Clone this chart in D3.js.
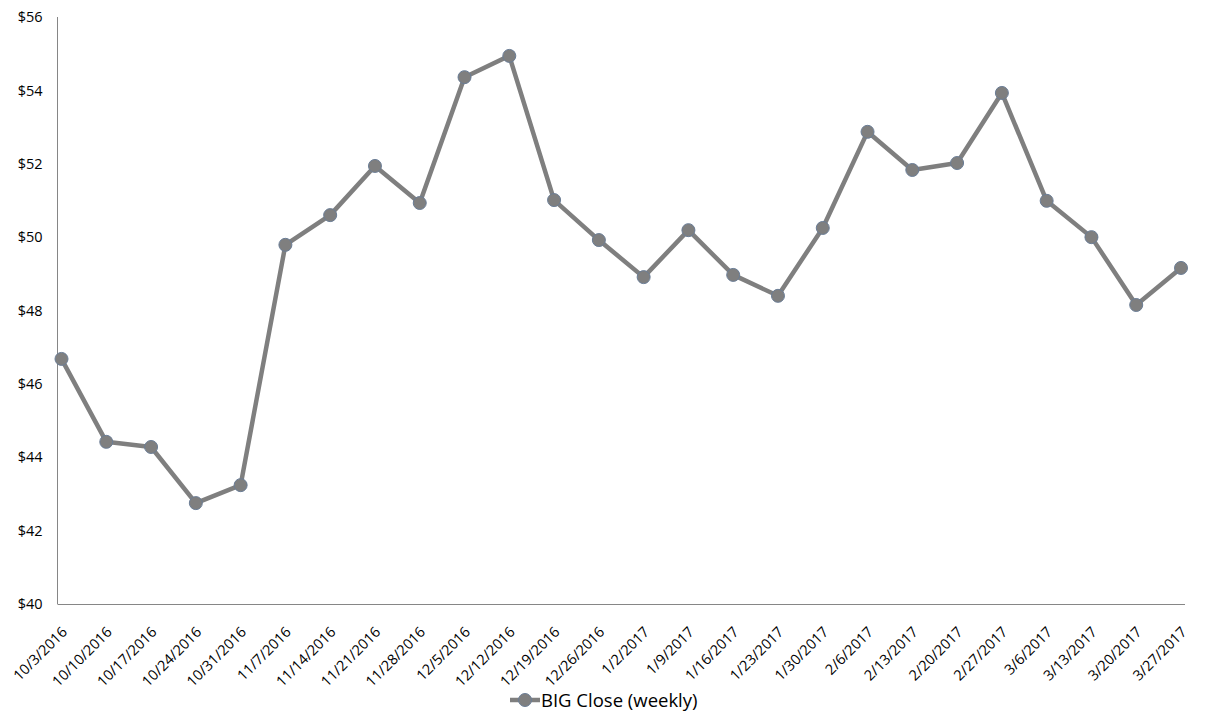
<!DOCTYPE html>
<html>
<head>
<meta charset="utf-8">
<script src="https://cdn.jsdelivr.net/npm/d3@7"></script>
<style>
  html, body { margin: 0; padding: 0; background: #fff; }
  svg text { font-family: "Open Sans", "Liberation Sans", sans-serif; fill: #000; }
</style>
</head>
<body>
<svg id="chart" width="1209" height="727"></svg>
<script>
const categories = ["10/3/2016","10/10/2016","10/17/2016","10/24/2016","10/31/2016","11/7/2016","11/14/2016","11/21/2016","11/28/2016","12/5/2016","12/12/2016","12/19/2016","12/26/2016","1/2/2017","1/9/2017","1/16/2017","1/23/2017","1/30/2017","2/6/2017","2/13/2017","2/20/2017","2/27/2017","3/6/2017","3/13/2017","3/20/2017","3/27/2017"];
const closeValues = [46.68,44.42,44.28,42.75,43.24,49.79,50.60,51.94,50.93,54.36,54.94,51.01,49.92,48.91,50.19,48.97,48.40,50.25,52.87,51.83,52.02,53.93,50.99,50.00,48.15,49.16];
const yTicks = [40,42,44,46,48,50,52,54,56];
const seriesName = "BIG Close (weekly)";

(function () {
const svg = d3.select("#chart");
const pLeft = 57.5, pRight = 1185, pTop = 17, pBottom = 604;

const x = d3.scalePoint().domain(categories).range([61.5, 1181]);
const y = d3.scaleLinear().domain([40, 56]).range([pBottom, pTop]);

// axes lines
svg.append("line").attr("x1", pLeft).attr("x2", pLeft).attr("y1", pTop).attr("y2", pBottom)
  .attr("stroke", "#868686").attr("stroke-width", 1);
svg.append("line").attr("x1", pLeft).attr("x2", pRight).attr("y1", pBottom + 0.5).attr("y2", pBottom + 0.5)
  .attr("stroke", "#868686").attr("stroke-width", 1);

// y tick labels
const yAxis = d3.axisLeft(y).tickValues(yTicks).tickFormat(d => "$" + d).tickSize(0).tickPadding(0);
const gy = svg.append("g").attr("transform", `translate(42.5,0)`).call(yAxis);
gy.select(".domain").remove();
gy.selectAll("text").attr("font-size", 14.5).attr("fill", "#000");

// x tick labels
const xAxis = d3.axisBottom(x).tickSize(0).tickPadding(0);
const gx = svg.append("g").attr("transform", `translate(0,${pBottom})`).call(xAxis);
gx.select(".domain").remove();
gx.selectAll("text")
  .attr("font-size", 14.5).attr("fill", "#000")
  .attr("text-anchor", "end")
  .attr("dy", null)
  .attr("y", 0)
  .attr("transform", "translate(6,29) rotate(-45)");

// line
const line = d3.line().x((d, i) => x(categories[i])).y(d => y(d));
svg.append("path").datum(closeValues).attr("d", line)
  .attr("fill", "none").attr("stroke", "#7f7f7f").attr("stroke-width", 4.5).attr("stroke-linejoin", "round");

svg.append("g").selectAll("circle").data(closeValues).join("circle")
  .attr("cx", (d, i) => x(categories[i])).attr("cy", d => y(d)).attr("r", 6.5)
  .attr("fill", "#7f7f7f").attr("stroke", "#6a7d96").attr("stroke-width", 1);

// legend
const lg = svg.append("g").attr("transform", "translate(510,700)");
lg.append("line").attr("x1", 0).attr("x2", 30).attr("y1", 0).attr("y2", 0)
  .attr("stroke", "#7f7f7f").attr("stroke-width", 4.5);
lg.append("circle").attr("cx", 15).attr("cy", 0).attr("r", 6.5)
  .attr("fill", "#7f7f7f").attr("stroke", "#6a7d96").attr("stroke-width", 1);
lg.append("text").attr("x", 31).attr("y", 6.5).attr("font-size", 18.5).text(seriesName);
})();
</script>
</body>
</html>
